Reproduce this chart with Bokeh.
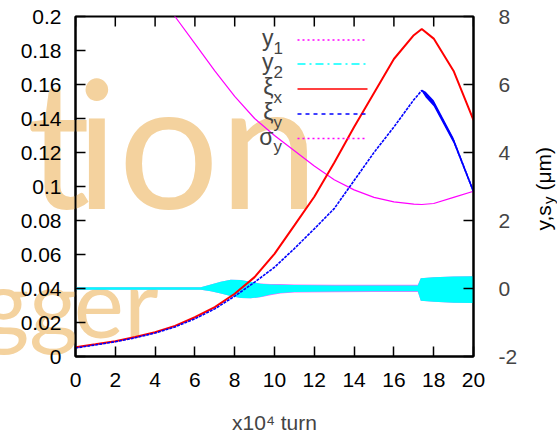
import math
from bokeh.plotting import figure
from bokeh.models import (Range1d, LinearAxis, FixedTicker, CustomJSTickFormatter,
                          Label, Arrow)
from bokeh.core.properties import value
from bokeh.embed import file_html
from bokeh.resources import INLINE

# ---------------- data ----------------
turn = [0, 1, 2, 3, 4, 5, 6, 7, 8, 9, 10, 11, 12, 13, 14, 15, 16, 17, 17.4, 18, 19, 20]
xi_x = [0.0055, 0.0072, 0.009, 0.0115, 0.0143, 0.018, 0.0231, 0.029, 0.0369, 0.0467,
        0.0604, 0.0771, 0.094, 0.114, 0.135, 0.155, 0.175, 0.189, 0.1927, 0.187, 0.168, 0.139]
xi_y = [0.005, 0.0068, 0.0087, 0.011, 0.0138, 0.0174, 0.0222, 0.028, 0.0355, 0.0437,
        0.0525, 0.0635, 0.0751, 0.087, 0.1035, 0.120, 0.135, 0.151, 0.1565, 0.149, 0.127, 0.097]

# oscillation envelope of xi_y after its peak
turn_xiy_band = [17.4, 17.6, 18, 19, 20]
xi_y_band_mid = [0.1565, 0.154, 0.149, 0.127, 0.097]
xi_y_halfwidth = [0.0005, 0.0017, 0.0018, 0.0015, 0.0012]

# sigma_y (right axis, um)
turn_sig = [4, 5, 6, 7, 8, 9, 10, 11, 12, 13, 14, 15, 16, 17, 17.4, 18, 19, 20]
sigma_y = [8.9, 8.0, 7.2, 6.4, 5.65, 5.0, 4.5, 4.05, 3.6, 3.2, 2.9, 2.68, 2.55, 2.48,
           2.47, 2.5, 2.68, 2.86]

# y1 / y2 oscillation envelopes (right axis, um)
turn_y = [0, 6.3, 6.8, 7.3, 7.8, 8.3, 8.8, 9.3, 9.8, 10.3, 11, 13, 15, 17.2, 17.35, 18, 19, 20]
y2_upper = [0.04, 0.04, 0.12, 0.2, 0.26, 0.25, 0.2, 0.14, 0.12, 0.11, 0.1, 0.09, 0.09, 0.09,
            0.3, 0.33, 0.35, 0.36]
y2_lower = [-0.04, -0.04, -0.08, -0.15, -0.22, -0.28, -0.29, -0.25, -0.18, -0.13, -0.1,
            -0.09, -0.08, -0.08, -0.36, -0.39, -0.42, -0.43]
y1_upper = [0.04, 0.04, 0.12, 0.2, 0.26, 0.25, 0.2, 0.15, 0.13, 0.13, 0.12, 0.11, 0.11, 0.11,
            0.3, 0.33, 0.35, 0.36]
y1_lower = [-0.04, -0.04, -0.08, -0.15, -0.22, -0.28, -0.29, -0.26, -0.2, -0.15, -0.12,
            -0.11, -0.1, -0.1, -0.36, -0.39, -0.42, -0.43]

x_ticks = [0, 2, 4, 6, 8, 10, 12, 14, 16, 18, 20]
left_ticks = [0, 0.02, 0.04, 0.06, 0.08, 0.1, 0.12, 0.14, 0.16, 0.18, 0.2]
right_ticks = [-2, 0, 2, 4, 6, 8]

legend_rows = [("y", "1", "#ff00ff", "2 3"),
               ("y", "2", "#00ffff", "8 4 2 4"),
               ("\u03be", "x", "#ff0000", "solid"),
               ("\u03be", "y", "#0000ff", "4 4"),
               ("\u03c3", "y", "#ff00ff", "2 3")]

# ---------------- layout constants (pixels) ----------------
W, H = 557, 436
FL, FR, FT, FB = 75, 473, 16, 356
XMIN, XMAX, YMIN, YMAX = 0, 20, 0, 0.2
FONT = "Liberation Sans"
WM = "#F4D29E"
LATO_SHIFT = 0.35   # observed offset of Lato's alphabetic anchor (fraction of size)
LIB_SHIFT = 0.22    # same for Liberation Sans


def dx(px):
    return XMIN + (px - FL) / (FR - FL) * (XMAX - XMIN)


def dy(py):
    return YMIN + (FB - py) / (FB - FT) * (YMAX - YMIN)


p = figure(width=W, height=H, output_backend="svg", toolbar_location=None,
           x_range=Range1d(XMIN, XMAX), y_range=Range1d(YMIN, YMAX),
           min_border_left=FL, min_border_right=W - FR, min_border_top=FT,
           min_border_bottom=H - FB)
p.extra_y_ranges = {"r": Range1d(-2, 8)}
p.xgrid.visible = False
p.ygrid.visible = False
p.outline_line_color = "black"
p.outline_line_width = 2
p.background_fill_color = "white"
p.border_fill_color = "white"


def wm_text(txt, px, py_base, size, align, level):
    p.text(x=[dx(px)], y=[dy(py_base - LATO_SHIFT * size)], text=[txt],
           text_font=value("Lato"), text_font_size=f"{size}px", text_color=WM,
           text_align=align, text_baseline="alphabetic", level=level)


# watermark: inside the frame under the curves, outside the frame under the tick labels
wm_text("ion", 318, 202, 178, "right", "underlay")
wm_text("er", 158, 334, 95, "right", "underlay")
wm_text("t", 58, 202, 178, "center", "guide")
wm_text("gg", 78, 334, 95, "right", "guide")

# y1, y2 envelopes
p.varea(x=turn_y, y1=y1_lower, y2=y1_upper, fill_color="#ff00ff", fill_alpha=0.6,
        y_range_name="r")
p.varea(x=turn_y, y1=y2_lower, y2=y2_upper, fill_color="#00ffff", y_range_name="r")

# sigma_y
p.line(turn_sig, sigma_y, line_color="#ff00ff", line_width=1.2, y_range_name="r")

# xi_x, xi_y
p.line(turn, xi_x, line_color="#ff0000", line_width=2)
p.line(turn, xi_y, line_color="#0000ff", line_width=1.6, line_dash="3 1")
band_lo = [m - h for m, h in zip(xi_y_band_mid, xi_y_halfwidth)]
band_hi = [m + h for m, h in zip(xi_y_band_mid, xi_y_halfwidth)]
p.varea(x=turn_xiy_band, y1=band_lo, y2=band_hi, fill_color="#0000ff")

# mirrored x ticks on the top border (drawn from the tick list)
tick_len = dy(FT) - dy(FT + 10)
p.segment(x0=x_ticks, y0=[YMAX] * len(x_ticks), x1=x_ticks,
          y1=[YMAX - tick_len] * len(x_ticks), line_color="black", line_width=1.5)

# axes styling
for ax in [p.xaxis[0], p.yaxis[0]]:
    ax.axis_line_color = "black"
    ax.axis_line_width = 2
    ax.major_tick_in = 10
    ax.major_tick_out = 0
    ax.major_tick_line_width = 1.5
    ax.minor_tick_line_color = None
    ax.major_label_text_font = FONT
    ax.major_label_text_font_size = "21px"
    ax.major_label_text_color = "black"

p.xaxis[0].ticker = FixedTicker(ticks=x_ticks)
p.xaxis[0].major_label_standoff = 16
p.xaxis[0].axis_label = "x10\u2074 turn"
p.xaxis[0].axis_label_text_font = FONT
p.xaxis[0].axis_label_text_font_size = "21px"
p.xaxis[0].axis_label_text_font_style = "normal"
p.xaxis[0].axis_label_standoff = 21

p.yaxis[0].ticker = FixedTicker(ticks=left_ticks)
p.yaxis[0].formatter = CustomJSTickFormatter(code="return String(parseFloat(tick.toFixed(3)));")
p.yaxis[0].major_label_standoff = 14

right = LinearAxis(y_range_name="r", ticker=FixedTicker(ticks=right_ticks),
                   major_tick_in=10, major_tick_out=0, major_tick_line_width=1.5,
                   minor_tick_line_color=None, axis_line_width=2,
                   major_label_text_font=FONT, major_label_text_font_size="21px",
                   major_label_standoff=25,
                   formatter=CustomJSTickFormatter(code="return String(tick);"))
p.add_layout(right, "right")

# right axis label  y,s_y (um): rotated text pieces, reading upwards
rot = math.pi / 2
for txt, bx, by, fs in [("y,s", 548, 230, 21), ("y", 551, 203.5, 15),
                        ("(\u03bcm)", 548, 190, 21)]:
    p.text(x=[dx(bx - LIB_SHIFT * fs)], y=[dy(by)], text=[txt], angle=rot,
           text_font=value(FONT), text_font_size=f"{fs}px", text_color="black",
           text_align="left", text_baseline="alphabetic", level="annotation")

# legend (gnuplot style: text then sample)
row_py = [39.5, 63.5, 88.5, 113.5, 138]
for (main, sub, col, dash), py in zip(legend_rows, row_py):
    p.add_layout(Label(x=dx(273), y=dy(py - 2), text=main, text_font=FONT,
                       text_font_size="23px", text_align="right",
                       text_baseline="alphabetic"))
    p.add_layout(Label(x=dx(273), y=dy(py + 8), text=sub, text_font=FONT,
                       text_font_size="17px", text_align="left",
                       text_baseline="alphabetic"))
    p.add_layout(Arrow(x_start=dx(297), y_start=dy(py), x_end=dx(367), y_end=dy(py),
                       start=None, end=None, line_color=col, line_width=1.5,
                       line_dash=dash))

open("out.html", "w").write(file_html(p, INLINE))
